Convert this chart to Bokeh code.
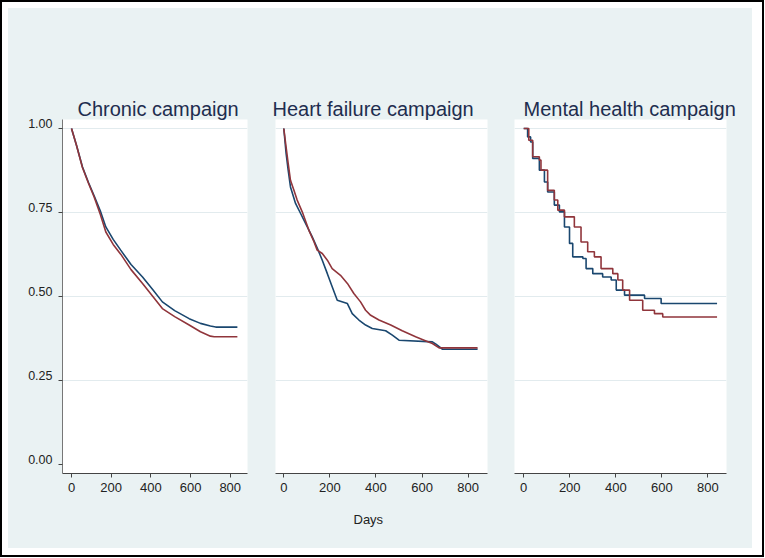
from bokeh.plotting import figure
from bokeh.layouts import row, column
from bokeh.models import Range1d, LinearAxis, FixedTicker, NumeralTickFormatter, Grid, Title
from bokeh.embed import file_html
from bokeh.resources import INLINE

# ---------------- data ----------------
titles = ["Chronic campaign", "Heart failure campaign", "Mental health campaign"]
x_ticks = [0, 200, 400, 600, 800]
y_ticks = [0.0, 0.25, 0.5, 0.75, 1.0]
x_title = "Days"

chronic_blue_days = [0, 25, 55, 85, 114, 145, 173, 210, 248, 300, 358, 410, 458, 520, 593, 650, 700, 727, 836]
chronic_blue_surv = [1.0, 0.95, 0.886, 0.84, 0.80, 0.755, 0.707, 0.67, 0.638, 0.595, 0.558, 0.52, 0.484, 0.458, 0.434, 0.42, 0.412, 0.409, 0.409]
chronic_red_days = [0, 25, 55, 85, 114, 145, 173, 210, 248, 300, 358, 410, 458, 520, 593, 650, 700, 719, 836]
chronic_red_surv = [1.0, 0.95, 0.884, 0.838, 0.796, 0.745, 0.692, 0.655, 0.626, 0.58, 0.539, 0.50, 0.464, 0.44, 0.415, 0.395, 0.382, 0.380, 0.380]

hf_blue_days = [0, 10, 19, 29, 51, 73, 102, 123, 149, 167, 189, 210, 232, 276, 297, 326, 355, 384, 442, 471, 500, 645, 660, 689, 841]
hf_blue_surv = [1.0, 0.926, 0.876, 0.826, 0.777, 0.747, 0.707, 0.678, 0.638, 0.608, 0.568, 0.529, 0.489, 0.479, 0.449, 0.43, 0.415, 0.405, 0.398, 0.385, 0.37, 0.365, 0.358, 0.343, 0.343]
hf_red_days = [0, 10, 19, 29, 44, 58, 80, 109, 131, 145, 167, 189, 210, 246, 276, 304, 333, 355, 377, 413, 464, 514, 572, 609, 645, 674, 841]
hf_red_surv = [1.0, 0.945, 0.896, 0.846, 0.816, 0.787, 0.752, 0.697, 0.663, 0.638, 0.628, 0.608, 0.583, 0.563, 0.539, 0.509, 0.484, 0.459, 0.444, 0.43, 0.415, 0.398, 0.38, 0.37, 0.36, 0.347, 0.347]

mh_blue_days = [0, 17, 30, 39, 68, 90, 104, 133, 155, 177, 199, 213, 257, 271, 300, 343, 380, 402, 438, 525, 597, 840]
mh_blue_surv = [1.0, 0.975, 0.96, 0.911, 0.876, 0.841, 0.811, 0.772, 0.752, 0.707, 0.658, 0.618, 0.613, 0.583, 0.568, 0.558, 0.549, 0.519, 0.504, 0.494, 0.479, 0.479]
mh_red_days = [0, 22, 39, 68, 75, 104, 133, 148, 177, 220, 249, 278, 307, 336, 387, 409, 430, 460, 517, 568, 604, 840]
mh_red_surv = [1.0, 0.965, 0.916, 0.906, 0.876, 0.816, 0.787, 0.757, 0.737, 0.707, 0.662, 0.633, 0.618, 0.583, 0.568, 0.549, 0.519, 0.489, 0.459, 0.449, 0.439, 0.439]

series = [
    (chronic_blue_days, chronic_blue_surv, chronic_red_days, chronic_red_surv, "line"),
    (hf_blue_days, hf_blue_surv, hf_red_days, hf_red_surv, "line"),
    (mh_blue_days, mh_blue_surv, mh_red_days, mh_red_surv, "step"),
]

# ---------------- style ----------------
BG = "#EAF2F3"
GRID = "#E2EBEE"
BLUE = "#1a476f"
RED = "#90353b"
TITLE_COLOR = "#1e2d4f"
FONT = "Liberation Sans"
Y0, Y1 = -0.0268, 1.0268
LAB_SHIFT = 0.0143

panels = [
    dict(width=254, left=54, right=15, xr=(-45.4, 887.0), toff=15),
    dict(width=239, left=13, right=14, xr=(-36.0, 884.0), toff=-3),
    dict(width=251, left=13, right=26, xr=(-40.0, 881.0), toff=9),
]

figs = []
for i, (cfg, title, (bd, bs, rd, rs, kind)) in enumerate(zip(panels, titles, series)):
    p = figure(width=cfg["width"], height=540,
               x_range=Range1d(*cfg["xr"]), y_range=Range1d(Y0, Y1),
               output_backend="svg", toolbar_location=None,
               y_axis_location="left" if i == 0 else None,
               min_border_left=cfg["left"], min_border_right=cfg["right"],
               min_border_top=111, min_border_bottom=75,
               background_fill_color="white", border_fill_color=BG,
               outline_line_color=None)
    p.title.text = title
    p.title.align = "left"
    p.title.offset = cfg["toff"]
    p.title.text_font = FONT
    p.title.text_font_size = "20px"
    p.title.text_font_style = "normal"
    p.title.text_color = TITLE_COLOR
    p.title.standoff = 0

    p.xgrid.visible = False
    xa = p.xaxis[0]
    xa.ticker = FixedTicker(ticks=x_ticks)
    xa.major_tick_out = 4
    xa.major_tick_in = 0
    xa.minor_tick_line_color = None
    xa.axis_line_color = "#444444"
    xa.major_tick_line_color = "#444444"
    xa.major_label_text_font = FONT
    xa.major_label_text_font_size = "13px"
    xa.major_label_text_color = "#222222"
    xa.major_label_standoff = 5

    if len(p.ygrid) > 0:
        for g in p.ygrid:
            g.ticker = FixedTicker(ticks=y_ticks[1:])
            g.grid_line_color = GRID
    else:
        p.add_layout(Grid(dimension=1, ticker=FixedTicker(ticks=y_ticks[1:]),
                          grid_line_color=GRID))

    if i == 0:
        ya = p.yaxis[0]
        ya.ticker = FixedTicker(ticks=y_ticks)
        ya.major_tick_out = 4
        ya.major_tick_in = 0
        ya.minor_tick_line_color = None
        ya.axis_line_color = "#777777"
        ya.major_tick_line_color = "#444444"
        ya.major_label_text_font_size = "1px"
        ya.major_label_text_color = None
        ya.major_label_standoff = 0
        p.extra_y_ranges = {"lab": Range1d(Y0 - LAB_SHIFT, Y1 - LAB_SHIFT)}
        la = LinearAxis(y_range_name="lab", ticker=FixedTicker(ticks=y_ticks),
                        formatter=NumeralTickFormatter(format="0.00"))
        la.major_tick_line_color = None
        la.minor_tick_line_color = None
        la.axis_line_color = None
        la.major_label_text_font = FONT
        la.major_label_text_font_size = "12.5px"
        la.major_label_text_color = "#222222"
        la.major_label_standoff = 0
        p.add_layout(la, "left")

    if i == 1:
        t = Title(text=x_title, align="left", offset=78, text_font=FONT,
                  text_font_size="13px", text_font_style="normal",
                  text_color="#222222", standoff=30)
        p.add_layout(t, "below")

    if kind == "step":
        p.step(bd, bs, mode="after", line_color=BLUE, line_width=1.6)
        p.step(rd, rs, mode="after", line_color=RED, line_width=1.6)
    else:
        p.line(bd, bs, line_color=BLUE, line_width=1.6)
        p.line(rd, rs, line_color=RED, line_width=1.6)
    figs.append(p)

inner = row(*figs, spacing=0, styles={"background-color": BG})
outer = column(inner, styles={"border": "2px solid #000000",
                              "padding": "6px 10px 7px 6px",
                              "background-color": "#ffffff"})
open("out.html", "w").write(file_html(outer, INLINE))
